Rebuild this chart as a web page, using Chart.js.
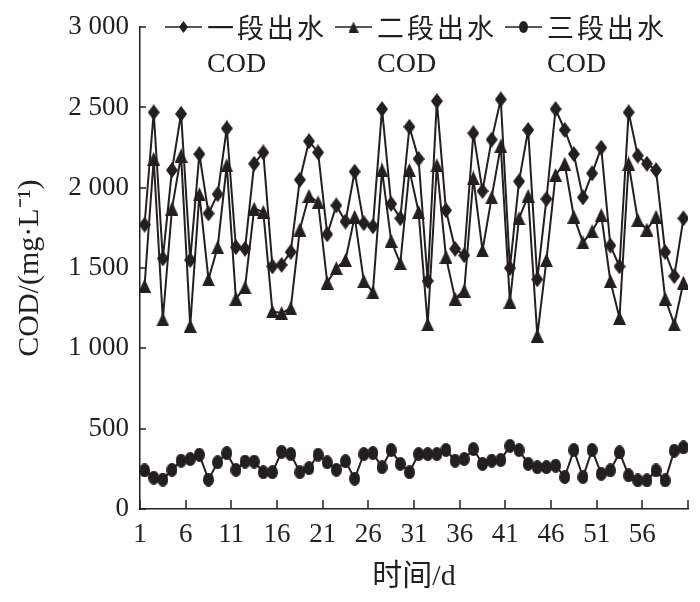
<!DOCTYPE html>
<html><head><meta charset="utf-8">
<script src="https://cdn.jsdelivr.net/npm/chart.js@4/dist/chart.umd.min.js"></script>
<style>html,body{margin:0;padding:0;background:#fff}</style>
</head><body>
<canvas id="c" width="700" height="602"></canvas>
<script>
// ---- data ----
const days = [1,2,3,4,5,6,7,8,9,10,11,12,13,14,15,16,17,18,19,20,21,22,23,24,25,26,27,28,29,30,
              31,32,33,34,35,36,37,38,39,40,41,42,43,44,45,46,47,48,49,50,51,52,53,54,55,56,57,58,59,60];
const stage1COD = [1770,2470,1560,2110,2460,1550,2210,1840,1960,2370,1630,1620,2150,2220,1510,1520,1600,2050,2290,2220,
                   1710,1890,1790,2100,1780,1760,2490,1900,1810,2380,2180,1420,2540,1860,1620,1580,2340,1980,2300,2550,
                   1500,2040,2360,1430,1930,2490,2360,2210,1940,2090,2250,1640,1510,2470,2200,2150,2110,1600,1450,1810];
const stage2COD = [1390,2180,1180,1870,2200,1140,1960,1430,1630,2140,1310,1380,1870,1850,1230,1220,1250,1740,1950,1910,
                   1410,1500,1550,1820,1420,1350,2110,1670,1530,2110,1850,1150,2140,1570,1310,1360,2060,1610,1940,2260,
                   1290,1810,1950,1080,1550,2080,2150,1820,1660,1730,1830,1420,1190,2150,1800,1740,1820,1310,1150,1410];
const stage3COD = [240,195,183,244,301,311,338,183,291,348,244,295,295,229,229,356,342,229,254,338,
                   291,244,297,189,342,348,260,367,281,229,342,342,342,367,301,311,373,281,301,305,
                   393,367,281,260,260,270,199,367,199,367,219,240,352,209,178,178,240,178,363,383];
const seriesNames = [['一段出水','COD'],['二段出水','COD'],['三段出水','COD']];
const xTickValues = [0.5,5.5,10.5,15.5,20.5,25.5,30.5,35.5,40.5,45.5,50.5,55.5,60.5];
const xTickLabels = ['1','6','11','16','21','26','31','36','41','46','51','56',''];
const yTickValues = [0,500,1000,1500,2000,2500,3000];
const yTickLabels = ['0','500','1 000','1 500','2 000','2 500','3 000'];

// ---- styling ----
const INK = '#231f20';
const FONT = "'Liberation Serif','Noto Sans CJK SC',serif";

function makeMarker(kind, w, h) {
  const c = document.createElement('canvas');
  c.width = w; c.height = h;
  const g = c.getContext('2d');
  g.fillStyle = INK;
  g.beginPath();
  if (kind === 'diamond') {
    g.moveTo(w/2, 0); g.lineTo(w, h/2); g.lineTo(w/2, h); g.lineTo(0, h/2);
  } else if (kind === 'triangle') {
    g.moveTo(w/2, 0); g.lineTo(w, h); g.lineTo(0, h);
  } else {
    g.ellipse(w/2, h/2, w/2, h/2, 0, 0, Math.PI*2);
  }
  g.closePath(); g.fill();
  return c;
}
const markers = [makeMarker('diamond', 12, 16), makeMarker('triangle', 13, 14), makeMarker('circle', 11, 14)];
const legendMarkers = [makeMarker('diamond', 9, 12), makeMarker('triangle', 10, 11), makeMarker('circle', 9, 12)];

function pts(vals) { return days.map((d, i) => ({x: d, y: vals[i]})); }

const inwardTicks = {
  id: 'inwardTicks',
  afterDraw(chart) {
    const ctx = chart.ctx, xs = chart.scales.x, ys = chart.scales.y;
    ctx.save();
    ctx.strokeStyle = INK; ctx.lineWidth = 1.5;
    ctx.beginPath();
    xTickValues.forEach(v => {
      const px = Math.round(xs.getPixelForValue(v));
      ctx.moveTo(px, ys.bottom); ctx.lineTo(px, ys.bottom - 9);
    });
    yTickValues.forEach(v => {
      const py = Math.round(ys.getPixelForValue(v));
      ctx.moveTo(xs.left, py); ctx.lineTo(xs.left + 6, py);
    });
    ctx.stroke();
    ctx.restore();
  }
};

const customLegend = {
  id: 'customLegend',
  afterDraw(chart) {
    const ctx = chart.ctx;
    ctx.save();
    chart.data.datasets.forEach((ds, i) => {
      const x0 = 165 + 170 * i, y0 = 27;
      ctx.strokeStyle = INK; ctx.lineWidth = 1.5;
      ctx.beginPath(); ctx.moveTo(x0, y0); ctx.lineTo(x0 + 37, y0); ctx.stroke();
      const m = legendMarkers[i];
      ctx.drawImage(m, x0 + 18.5 - m.width/2, y0 - m.height/2);
      ctx.fillStyle = INK;
      ctx.textBaseline = 'middle';
      ctx.textAlign = 'left';
      ctx.font = "27px 'Noto Sans CJK SC', sans-serif";
      ctx.letterSpacing = '3px';
      ctx.fillText(seriesNames[i][0], x0 + 42, 28);
      ctx.letterSpacing = '0px';
      ctx.font = "28px " + FONT;
      ctx.fillText(seriesNames[i][1], x0 + 42, 65);
    });
    ctx.restore();
  }
};

const dsCommon = { borderColor: INK, borderWidth: 2, tension: 0, pointRadius: 6, pointHoverRadius: 6 };

new Chart(document.getElementById('c'), {
  type: 'line',
  data: {
    datasets: [
      Object.assign({ label: seriesNames[0].join(''), data: pts(stage1COD), pointStyle: markers[0] }, dsCommon),
      Object.assign({ label: seriesNames[1].join(''), data: pts(stage2COD), pointStyle: markers[1] }, dsCommon),
      Object.assign({ label: seriesNames[2].join(''), data: pts(stage3COD), pointStyle: markers[2] }, dsCommon)
    ]
  },
  options: {
    responsive: false,
    devicePixelRatio: 1,
    animation: false,
    layout: { padding: { top: 21, right: 12, left: 0, bottom: 0 } },
    plugins: { legend: { display: false }, tooltip: { enabled: false } },
    scales: {
      x: {
        type: 'linear', min: 0.5, max: 60.5,
        afterBuildTicks: s => { s.ticks = xTickValues.map(v => ({ value: v })); },
        afterFit: s => { s.height = 93; },
        ticks: { autoSkip: false, maxRotation: 0, padding: 10, color: INK,
                 font: { family: FONT, size: 27 },
                 callback: (v, i) => xTickLabels[i] },
        grid: { display: false, drawTicks: false },
        border: { display: true, color: INK, width: 1.5 },
        title: { display: true, text: '时间/d', color: INK, font: { family: FONT, size: 30 },
                 padding: { top: 0, bottom: 7 } }
      },
      y: {
        min: 0, max: 3000,
        afterBuildTicks: s => { s.ticks = yTickValues.map(v => ({ value: v })); },
        afterFit: s => { s.width = 140; },
        ticks: { padding: 11, color: INK, font: { family: FONT, size: 27 },
                 callback: (v, i) => yTickLabels[i] },
        grid: { display: false, drawTicks: false },
        border: { display: true, color: INK, width: 1.5 },
        title: { display: true, text: 'COD/(mg·L⁻¹)', color: INK, font: { family: FONT, size: 30 },
                 padding: { top: 12, bottom: 0 } }
      }
    }
  },
  plugins: [inwardTicks, customLegend]
});
</script>
</body></html>
